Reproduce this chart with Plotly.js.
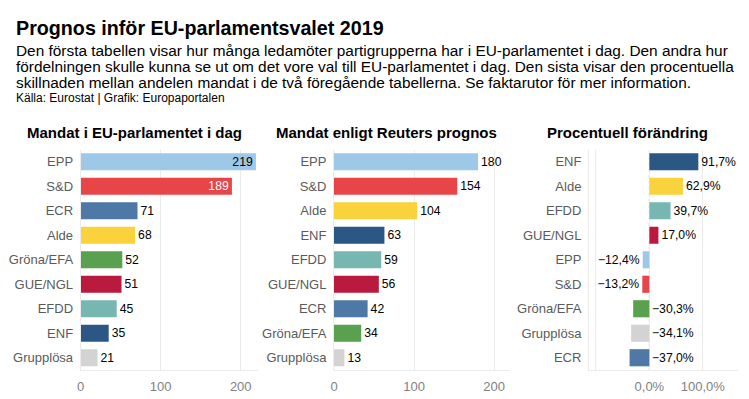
<!DOCTYPE html>
<html>
<head>
<meta charset="utf-8">
<script src="https://cdn.plot.ly/plotly-3.0.1.min.js"></script>
<style>html,body{margin:0;padding:0;background:#fff;}#chart{width:749px;height:399px;}</style>
</head>
<body>
<div id="chart"></div>
<script>
// ---- Data ----
const groupsToday = ['EPP','S&D','ECR','Alde','Gröna/EFA','GUE/NGL','EFDD','ENF','Grupplösa'];
const seatsToday = [219,189,71,68,52,51,45,35,21];
const groupsReuters = ['EPP','S&D','Alde','ENF','EFDD','GUE/NGL','ECR','Gröna/EFA','Grupplösa'];
const seatsReuters = [180,154,104,63,59,56,42,34,13];
const groupsChange = ['ENF','Alde','EFDD','GUE/NGL','EPP','S&D','Gröna/EFA','Grupplösa','ECR'];
const pctChange = [91.7,62.9,39.7,17.0,-12.4,-13.2,-30.3,-34.1,-37.0];
const ticksSeats = [0,100,200];
const ticksPctVals = [-100,0,100];
const ticksPctText = ['','0,0%','100,0%'];
const panelTitles = ['Mandat i EU-parlamentet i dag','Mandat enligt Reuters prognos','Procentuell förändring'];
const mainTitle = 'Prognos inför EU-parlamentsvalet 2019';
const subtitleLines = [
  'Den första tabellen visar hur många ledamöter partigrupperna har i EU-parlamentet i dag. Den andra hur',
  'fördelningen skulle kunna se ut om det vore val till EU-parlamentet i dag. Den sista visar den procentuella',
  'skillnaden mellan andelen mandat i de två föregående tabellerna. Se faktarutor för mer information.'
];
const sourceText = 'Källa: Eurostat | Grafik: Europaportalen';

const groupColors = {
  'EPP':'#9DC8E8','S&D':'#E84548','ECR':'#4E79A7','Alde':'#F9D23C','Gröna/EFA':'#59A14F',
  'GUE/NGL':'#BA1A3D','EFDD':'#76B7B2','ENF':'#2A5783','Grupplösa':'#D3D3D3'
};

// ---- Layout helpers ----
const W = 749, H = 399;
const FONT = 'Liberation Sans, Arial, Helvetica, sans-serif';
const px = v => v / W;
const py = v => 1 - v / H;
const fmtPct = v => (v < 0 ? '\u2212' : '') + Math.abs(v).toFixed(1).replace('.', ',') + '%';

const yDomain = [py(370), py(149.5)];
const LBL = 12.2;

const common = {type:'bar', orientation:'h', width:0.7, cliponaxis:false, constraintext:'none',
  textangle:0, hoverinfo:'skip', textfont:{family:FONT,size:LBL,color:'#000'}};

const t1 = Object.assign({}, common, {
  x: seatsToday, y: groupsToday, xaxis:'x', yaxis:'y',
  marker:{color: groupsToday.map(g => groupColors[g])},
  text: seatsToday.map(String),
  textposition: seatsToday.map(v => v > 150 ? 'inside' : 'outside'),
  insidetextanchor:'end',
  insidetextfont:{family:FONT,size:LBL,color: seatsToday.map((v,i) => i === 1 ? '#fff' : '#000')},
  outsidetextfont:{family:FONT,size:LBL,color:'#000'}
});
const t2 = Object.assign({}, common, {
  x: seatsReuters, y: groupsReuters, xaxis:'x2', yaxis:'y2',
  marker:{color: groupsReuters.map(g => groupColors[g])},
  text: seatsReuters.map(String), textposition:'outside',
  outsidetextfont:{family:FONT,size:LBL,color:'#000'}
});
const t3 = Object.assign({}, common, {
  x: pctChange, y: groupsChange, xaxis:'x3', yaxis:'y3',
  marker:{color: groupsChange.map(g => groupColors[g])},
  text: pctChange.map(fmtPct),
  textposition: pctChange.map(v => v > -20 ? 'outside' : 'none'),
  outsidetextfont:{family:FONT,size:LBL,color:'#000'}
});

const gridC = '#EBEBEB';
const xCommon = {showgrid:true, gridcolor:gridC, gridwidth:1, zeroline:false, showline:true, linecolor:gridC,
  linewidth:1, ticks:'', ticklabelstandoff:4, tickfont:{family:FONT,size:13,color:'#7f7f7f'}, fixedrange:true};
const yCommon = {type:'category', range:[8.5,-0.5], showgrid:false, zeroline:false, showline:true,
  linecolor:gridC, linewidth:1, ticks:'', ticklabelstandoff:4, tickfont:{family:FONT,size:13,color:'#5a5a5a'},
  domain: yDomain, fixedrange:true};

const annotations = [];
annotations.push({xref:'paper', yref:'paper', x:px(14), y:py(28), xanchor:'left', yanchor:'middle',
  text:'<b>'+mainTitle+'</b>', showarrow:false, font:{family:FONT,size:19.7,color:'#000'}});
subtitleLines.forEach((l,i) => annotations.push({xref:'paper', yref:'paper', x:px(14), y:py(50 + i*16),
  xanchor:'left', yanchor:'middle', text:l, showarrow:false, font:{family:FONT,size:15.4,color:'#000'}}));
annotations.push({xref:'paper', yref:'paper', x:px(14), y:py(98), xanchor:'left', yanchor:'middle',
  text:sourceText, showarrow:false, font:{family:FONT,size:12,color:'#000'}});
const titleCenters = [134, 386.7, 627.3];
panelTitles.forEach((t,i) => annotations.push({xref:'paper', yref:'paper', x:px(titleCenters[i]), y:py(132.5),
  xanchor:'center', yanchor:'middle', text:'<b>'+t+'</b>', showarrow:false, font:{family:FONT,size:15,color:'#000'}}));
pctChange.forEach((v,i) => { if (v <= -20) annotations.push({xref:'x3', yref:'y3', x:0, y:groupsChange[i],
  xanchor:'left', yanchor:'middle', xshift:1, text:fmtPct(v), showarrow:false,
  font:{family:FONT,size:LBL,color:'#000'}}); });

const layout = {
  width:W, height:H, margin:{l:0,r:0,t:0,b:0}, showlegend:false,
  paper_bgcolor:'#fff', plot_bgcolor:'#fff', font:{family:FONT},
  xaxis: Object.assign({}, xCommon, {domain:[px(80.7), px(258)], range:[0,221.6], tickvals:ticksSeats, anchor:'y'}),
  yaxis: Object.assign({}, yCommon, {anchor:'x'}),
  xaxis2: Object.assign({}, xCommon, {domain:[px(334), px(509.3)], range:[0,219], tickvals:ticksSeats, anchor:'y2'}),
  yaxis2: Object.assign({}, yCommon, {anchor:'x2'}),
  xaxis3: Object.assign({}, xCommon, {domain:[px(589), px(738)], range:[-113,166], tickvals:ticksPctVals,
    ticktext:ticksPctText, anchor:'y3'}),
  yaxis3: Object.assign({}, yCommon, {anchor:'x3'}),
  shapes:[{type:'line', xref:'x3', yref:'paper', x0:0, x1:0, y0:yDomain[0], y1:yDomain[1],
    line:{color:'#b5b5b5', width:1, dash:'dot'}, layer:'below'}],
  annotations: annotations
};

Plotly.newPlot('chart', [t1,t2,t3], layout, {displayModeBar:false, staticPlot:true});
</script>
</body>
</html>
